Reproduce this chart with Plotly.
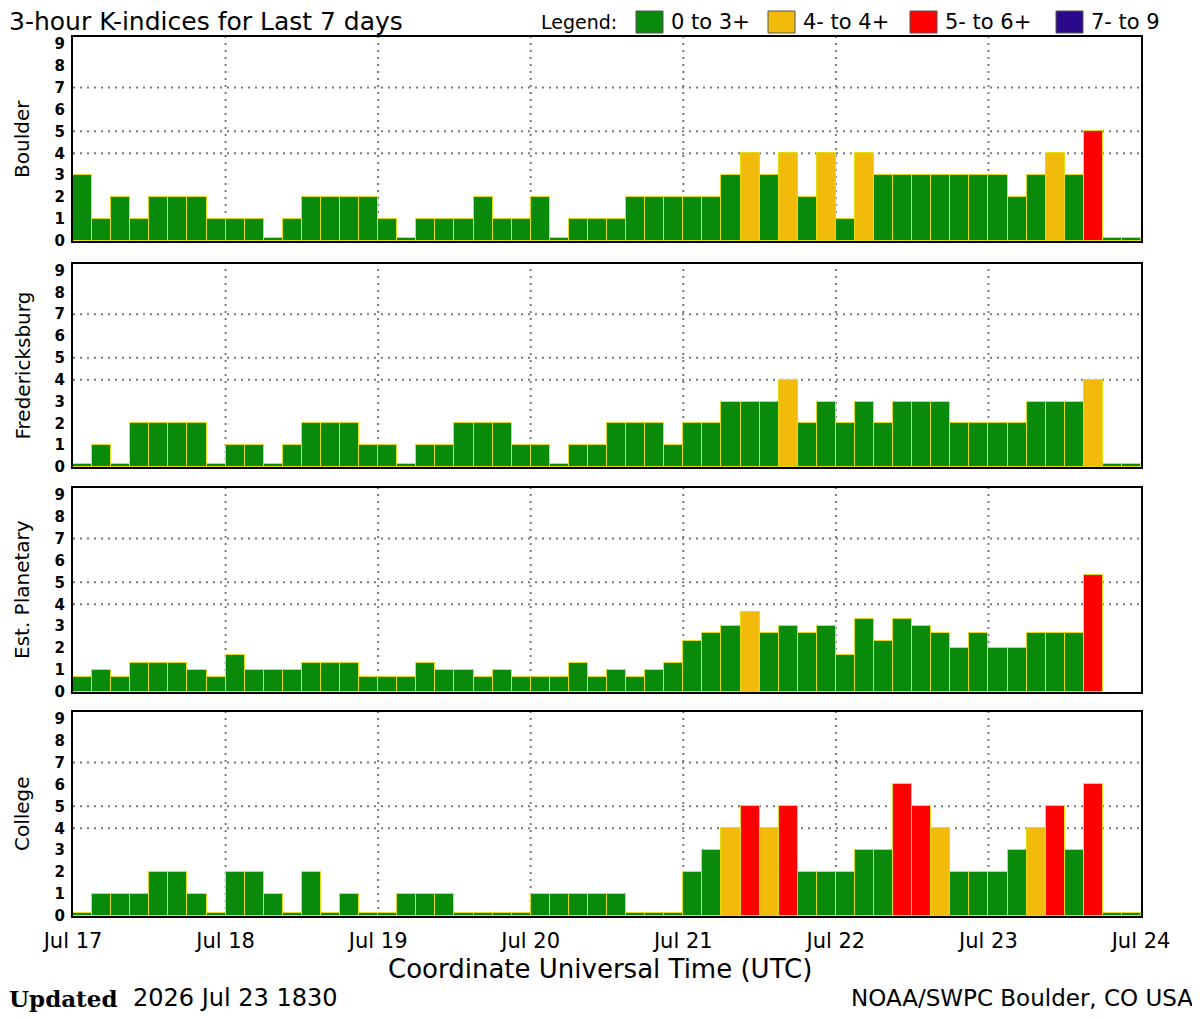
import pandas as pd
import plotly.graph_objects as go

# the page puts the figure 8px in from the window corner
OFF = 8
W, H = 1200 - OFF, 1020 - OFF

START = "2026-07-17 00:00"
SLOTS = 56  # 7 days x 8 three-hour intervals
DAY_TICKS = ["Jul 17", "Jul 18", "Jul 19", "Jul 20", "Jul 21", "Jul 22", "Jul 23", "Jul 24"]

STATIONS = ["Boulder", "Fredericksburg", "Est. Planetary", "College"]

boulder = [3, 1, 2, 1, 2, 2, 2, 1,
           1, 1, 0, 1, 2, 2, 2, 2,
           1, 0, 1, 1, 1, 2, 1, 1,
           2, 0, 1, 1, 1, 2, 2, 2,
           2, 2, 3, 4, 3, 4, 2, 4,
           1, 4, 3, 3, 3, 3, 3, 3,
           3, 2, 3, 4, 3, 5, 0, 0]

fredericksburg = [0, 1, 0, 2, 2, 2, 2, 0,
                  1, 1, 0, 1, 2, 2, 2, 1,
                  1, 0, 1, 1, 2, 2, 2, 1,
                  1, 0, 1, 1, 2, 2, 2, 1,
                  2, 2, 3, 3, 3, 4, 2, 3,
                  2, 3, 2, 3, 3, 3, 2, 2,
                  2, 2, 3, 3, 3, 4, 0, 0]

planetary = [0.67, 1, 0.67, 1.33, 1.33, 1.33, 1, 0.67,
             1.67, 1, 1, 1, 1.33, 1.33, 1.33, 0.67,
             0.67, 0.67, 1.33, 1, 1, 0.67, 1, 0.67,
             0.67, 0.67, 1.33, 0.67, 1, 0.67, 1, 1.33,
             2.33, 2.67, 3, 3.67, 2.67, 3, 2.67, 3,
             1.67, 3.33, 2.33, 3.33, 3, 2.67, 2, 2.67,
             2, 2, 2.67, 2.67, 2.67, 5.33, None, None]

college = [0, 1, 1, 1, 2, 2, 1, 0,
           2, 2, 1, 0, 2, 0, 1, 0,
           0, 1, 1, 1, 0, 0, 0, 0,
           1, 1, 1, 1, 1, 0, 0, 0,
           2, 3, 4, 5, 4, 5, 2, 2,
           2, 3, 3, 6, 5, 4, 2, 2,
           2, 3, 4, 5, 3, 6, 0, 0]

LEGEND_LABELS = ["0 to 3+", "4- to 4+", "5- to 6+", "7- to 9"]
LEGEND_COLORS = ["#0a8a0a", "#f2ba0a", "#ff0000", "#2a0a8a"]

# panel boxes in window pixels (top, bottom)
PANELS = [(37, 241), (264, 467), (488, 692), (712, 916)]
X_LEFT, X_RIGHT = 73, 1141

GRID = dict(color="#7a7a7a", width=2, dash="2px,5px")
FONT = "DejaVu Sans"


def px_x(x):
    return max(x - OFF, 0) / W


def px_y(y):
    return 1 - (y - OFF) / H


def k_color(v):
    if v is None or v < 3.6:
        return LEGEND_COLORS[0]
    if v < 4.6:
        return LEGEND_COLORS[1]
    if v < 6.6:
        return LEGEND_COLORS[2]
    return LEGEND_COLORS[3]


def bar_height(v):
    # zero values are drawn as a thin strip
    if v is None:
        return None
    return max(v, 0.12)


def label(text, x, y, size, xanchor="left", family=FONT, angle=0):
    fig.add_annotation(text=text, x=px_x(x), y=px_y(y), textangle=angle,
                       xref="paper", yref="paper", xanchor=xanchor, yanchor="middle",
                       showarrow=False, borderpad=0,
                       font=dict(family=family, size=size, color="black"))


slots = pd.date_range(START, periods=SLOTS, freq="3h")
centers = slots + pd.Timedelta(hours=1.5)
day_ticks = pd.date_range(START, periods=len(DAY_TICKS), freq="1D")
three_hours_ms = 3 * 3600 * 1000

series = [boulder, fredericksburg, planetary, college]

fig = go.Figure()

for i, (name, values) in enumerate(zip(STATIONS, series)):
    top, bottom = PANELS[i]
    xa = "x" if i == 0 else f"x{i + 1}"
    ya = "y" if i == 0 else f"y{i + 1}"
    fig.add_trace(go.Bar(
        x=centers,
        y=[bar_height(v) for v in values],
        width=three_hours_ms,
        marker=dict(color=[k_color(v) for v in values],
                    line=dict(color="#e2dc10", width=1)),
        xaxis=xa,
        yaxis=ya,
        showlegend=False,
        hoverinfo="skip",
    ))

    axis_kw = dict(
        domain=[px_x(X_LEFT), px_x(X_RIGHT)],
        type="date",
        range=[day_ticks[0], day_ticks[-1]],
        tickvals=day_ticks,
        ticktext=DAY_TICKS,
        showticklabels=(i == len(STATIONS) - 1),
        tickfont=dict(family=FONT, size=21, color="black"),
        ticks="",
        ticklabelstandoff=5,
        showgrid=False,
        showline=True,
        linecolor="black",
        linewidth=2,
        mirror=True,
        zeroline=False,
        automargin=False,
        anchor=ya,
    )
    yaxis_kw = dict(
        domain=[px_y(bottom), px_y(top)],
        range=[0, 9.3],
        tickvals=list(range(10)),
        tickfont=dict(family=FONT, size=15, color="black", weight="bold"),
        ticks="",
        ticklabelstandoff=3,
        showgrid=False,
        showline=True,
        linecolor="black",
        linewidth=2,
        mirror=True,
        zeroline=False,
        automargin=False,
        anchor=xa,
    )
    suffix = "" if i == 0 else str(i + 1)
    fig.layout["xaxis" + suffix] = axis_kw
    fig.layout["yaxis" + suffix] = yaxis_kw

    for level in (4, 5, 7):
        fig.add_shape(type="line", xref=xa + " domain", yref=ya,
                      x0=0, x1=1, y0=level, y1=level,
                      line=GRID, layer="below")
    for day in day_ticks[1:-1]:
        fig.add_shape(type="line", xref=xa, yref=ya + " domain",
                      x0=day, x1=day, y0=0, y1=1,
                      line=GRID, layer="below")

    label(name, 22, (top + bottom) / 2, 20, xanchor="center", angle=-90)

# title and legend
label("3-hour K-indices for Last 7 days", 2, 21, 25)
label("Legend:", 540, 22, 19)
legend_x = [636, 768, 910, 1056]
for lx, text, color in zip(legend_x, LEGEND_LABELS, LEGEND_COLORS):
    fig.add_shape(type="rect", xref="paper", yref="paper",
                  x0=px_x(lx), x1=px_x(lx + 27), y0=px_y(33), y1=px_y(11),
                  fillcolor=color, line=dict(color="#555555", width=1))
    label(text, lx + 34, 22, 21)

# bottom texts
label("Coordinate Universal Time (UTC)", 600, 969, 26, xanchor="center")
label("<b>Updated</b>", 2, 998, 23, family="DejaVu Serif")
label("2026 Jul 23 1830", 132, 998, 24)
label("NOAA/SWPC Boulder, CO USA", 1194, 998, 23, xanchor="right")

fig.update_layout(
    width=W,
    height=H,
    margin=dict(l=0, r=0, t=0, b=0, pad=0, autoexpand=False),
    paper_bgcolor="white",
    plot_bgcolor="white",
    bargap=0,
    barmode="overlay",
    showlegend=False,
)

fig.write_html("out.html")
